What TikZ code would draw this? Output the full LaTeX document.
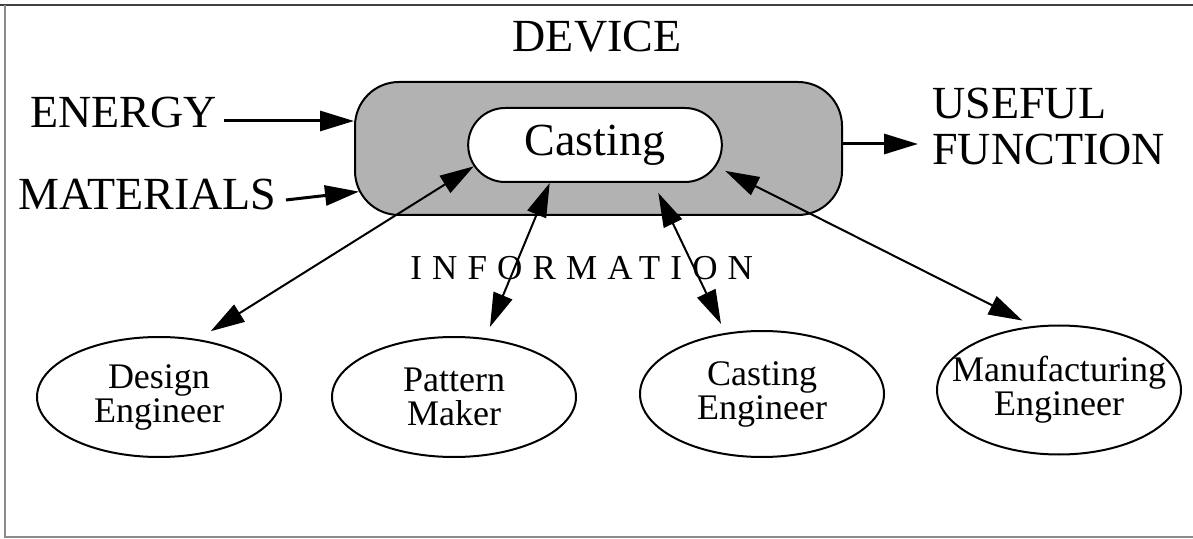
\documentclass[tikz,border=0pt]{standalone}
\usepackage{fontspec}
\setmainfont{Liberation Serif}
\usetikzlibrary{arrows.meta,shapes.misc,shapes.geometric}

\tikzset{
  big/.style={inner sep=0pt, font=\fontsize{23}{23}\selectfont},
  role/.style={ellipse, draw, line width=1pt, minimum width=122pt,
    inner xsep=-12pt, inner ysep=2pt, align=center,
    font=\fontsize{18}{17}\selectfont},
  flow/.style={-{Triangle[length=17pt,width=10pt]}, line width=1.5pt},
  info/.style={{Triangle[length=17pt,width=10pt]}-{Triangle[length=17pt,width=10pt]},
    line width=1pt},
}

\begin{document}
\begin{tikzpicture}[x=0.5pt,y=-0.5pt]
    \useasboundingbox (0,0) rectangle (1193,539);

    % Frame
    \draw[black!75, line width=1pt] (0,5) -- (1193,5);
    \draw[black!45, line width=1pt] (5,5) -- (5,537) -- (1193,537);

    % Device with the casting inside
    \node[big, anchor=base] (devlabel) at (597,52) {DEVICE};
    \node[draw, line width=1pt, fill=black!30, rounded corners=22pt,
          minimum width=243.5pt, minimum height=66.5pt] (device) at (598.5,148.5) {};
    \node[rounded rectangle, draw, line width=1pt, fill=white,
          minimum width=133.5pt, minimum height=37pt,
          font=\fontsize{23}{23}\selectfont] (casting) at (595,145) {Casting};

    % Inputs and output
    \node[big, anchor=base west] (energy) at (30,128) {ENERGY};
    \node[big, anchor=base west] (materials) at (18,210) {MATERIALS};
    \node[big, anchor=north west, align=left] (useful) at (932,88) {USEFUL\\FUNCTION};

    \coordinate (energyout) at ([shift={(3.5pt,3.5pt)}]energy.base east);
    \coordinate (matout) at ([shift={(4.5pt,5pt)}]materials.base east);
    \coordinate (devout) at ([yshift=2.25pt]device.east);
    \draw[flow] (energyout) -- (energyout -| device.west);
    \draw[flow] (matout) -- ([xshift=2.5pt]device.190);
    \draw[flow, shorten >=7pt] (devout) -- (devout -| useful.west);

    % Information
    \node[inner sep=0pt, anchor=base west,
          font=\fontsize{17.5}{17.5}\selectfont\addfontfeature{LetterSpace=29}] (information) at (410,280) {INFORMATION};

    % People
    \foreach \name/\x/\y/\h/\txt in {design/159/397/60/{Design\\Engineer},
        pattern/454/397/60/{Pattern\\Maker},
        ce/762/394/63/{Casting\\Engineer},
        me/1059/390/64.5/{Manufacturing\\Engineer}}
    {
        \node[role, minimum height=\h pt] (\name) at (\x,\y) {\txt};
    }

    % Information links
    \foreach \name/\i/\j/\sa/\sb in {design/56/190/7.5/0, pattern/62/220/6/0,
        ce/121/-33/5/5.5, me/112/-10/6/5}
        \draw[info, shorten <=\sa pt, shorten >=\sb pt] (\name.\i) -- (casting.\j);
\end{tikzpicture}
\end{document}
